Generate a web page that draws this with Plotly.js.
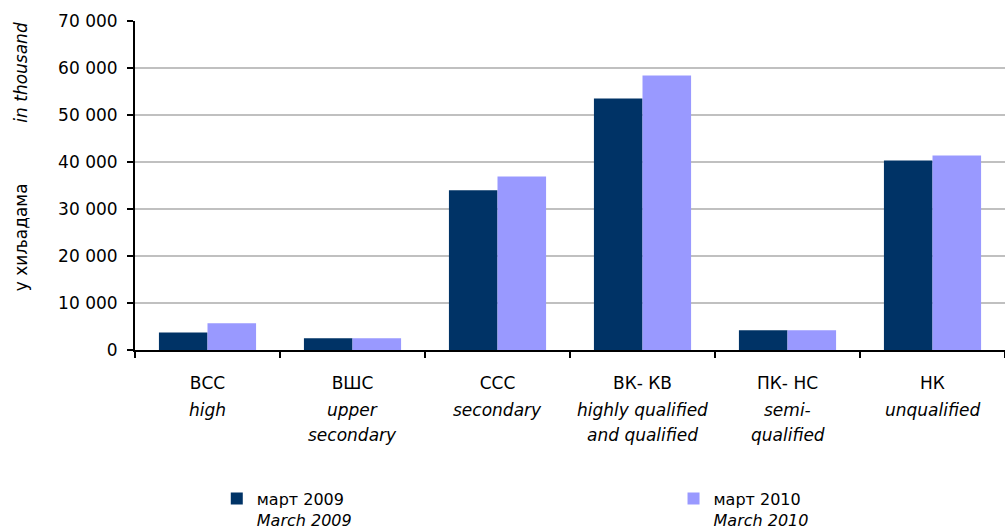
<!DOCTYPE html>
<html>
<head>
<meta charset="utf-8">
<script src="https://cdn.plot.ly/plotly-3.0.1.min.js"></script>
<style>html,body{margin:0;padding:0;background:#fff;}#chart{width:1005px;height:531px;}</style>
</head>
<body>
<div id="chart"></div>
<script>
// ---- data ----
const categories = ['ВСС', 'ВШС', 'ССС', 'ВК- КВ', 'ПК- НС', 'НК'];
const categoriesEn = [['high'], ['upper', 'secondary'], ['secondary'], ['highly qualified', 'and qualified'], ['semi-', 'qualified'], ['unqualified']];
const march2009 = [3700, 2500, 34000, 53500, 4200, 40300];
const march2010 = [5700, 2500, 36900, 58400, 4200, 41400];
const seriesNames = ['март 2009', 'март 2010'];
const seriesNamesEn = ['March 2009', 'March 2010'];
const yTicks = [0, 10000, 20000, 30000, 40000, 50000, 60000, 70000];
const yTitle = 'у хиљадама';
const yTitleEn = 'in thousand';

const FONT = 'DejaVu Sans, Verdana, sans-serif';
const colors = ['#003366', '#9999FF'];

const traces = [march2009, march2010].map((vals, i) => ({
  type: 'bar',
  x: categories,
  y: vals,
  name: seriesNames[i] + '<br><i>' + seriesNamesEn[i] + '</i>',
  marker: {color: colors[i], line: {width: 0}},
  legend: i === 0 ? 'legend' : 'legend2',
  hoverinfo: 'x+y'
}));

const annotations = [];
categoriesEn.forEach((lines, ci) => {
  lines.forEach((ln, li) => {
    annotations.push({
      xref: 'x', yref: 'paper', x: categories[ci], y: -0.182 - li * 0.076,
      xanchor: 'center', yanchor: 'middle', showarrow: false,
      text: '<i>' + ln + '</i>', font: {family: FONT, size: 17, color: '#000'}
    });
  });
});
annotations.push({
  xref: 'paper', yref: 'paper', x: -0.131, y: 0.843, xanchor: 'center', yanchor: 'middle',
  textangle: -90, showarrow: false, text: '<i>' + yTitleEn + '</i>',
  font: {family: FONT, size: 17, color: '#000'}
});
annotations.push({
  xref: 'paper', yref: 'paper', x: -0.131, y: 0.343, xanchor: 'center', yanchor: 'middle',
  textangle: -90, showarrow: false, text: yTitle,
  font: {family: FONT, size: 17, color: '#000'}
});

const legendBase = {
  orientation: 'v', yref: 'paper', y: -0.40, yanchor: 'top', xanchor: 'left',
  valign: 'top', bgcolor: 'rgba(0,0,0,0)', borderwidth: 0, tracegroupgap: 0,
  font: {family: FONT, size: 16, color: '#000'}, itemclick: false, itemdoubleclick: false
};

const layout = {
  width: 1005, height: 531,
  margin: {l: 135, r: 0, t: 21, b: 181, autoexpand: false},
  paper_bgcolor: '#fff', plot_bgcolor: '#fff',
  separators: ', ',
  font: {family: FONT, size: 17, color: '#000'},
  barmode: 'group', bargap: 0.33, bargroupgap: 0,
  showlegend: true,
  legend: Object.assign({}, legendBase, {x: 0.094}),
  legend2: Object.assign({}, legendBase, {x: 0.619}),
  xaxis: {
    type: 'category', tickson: 'boundaries', ticks: 'outside', ticklen: 6, tickwidth: 2,
    tickcolor: '#000', showline: true, linecolor: '#000', linewidth: 2,
    showgrid: false, ticklabelstandoff: 17, automargin: false,
    tickfont: {family: FONT, size: 17, color: '#000'}, fixedrange: true
  },
  yaxis: {
    range: [0, 70000], tickvals: yTicks, tickformat: ',d', ticks: 'outside', ticklen: 6,
    tickwidth: 2, tickcolor: '#000', showline: true, linecolor: '#000', linewidth: 2,
    showgrid: true, gridcolor: '#c0c0c0', gridwidth: 2, zeroline: false,
    ticklabelstandoff: 6, automargin: false,
    tickfont: {family: FONT, size: 17, color: '#000'}, fixedrange: true
  },
  annotations: annotations
};

Plotly.newPlot('chart', traces, layout, {displayModeBar: false, staticPlot: true});
</script>
</body>
</html>
